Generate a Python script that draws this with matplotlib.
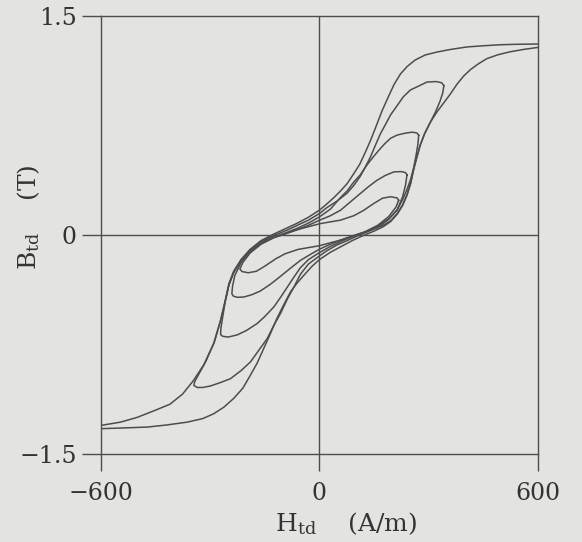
import matplotlib
matplotlib.use('Agg')
import matplotlib.pyplot as plt

# field H (A/m) and flux density B (T), read off the scanned loops
# outer loop: descending branch (600 -> -600) then ascending (-600 -> 600)
outer_desc_h = [600, 540, 496, 450, 405, 360, 322, 290, 262, 240, 222, 205,
                190, 172, 155, 140, 125, 110, 92, 76, 58, 40, 20, 0, -30,
                -60, -90, -125, -160, -190, -215, -235, -248, -258, -271,
                -290, -317, -346, -375, -410, -454, -500, -545, -600]
outer_desc_b = [1.305, 1.303, 1.300, 1.293, 1.285, 1.268, 1.250, 1.230,
                1.195, 1.150, 1.100, 1.030, 0.950, 0.850, 0.740, 0.645,
                0.560, 0.480, 0.410, 0.350, 0.300, 0.255, 0.210, 0.168,
                0.120, 0.080, 0.045, 0.005, -0.040, -0.100, -0.170, -0.250,
                -0.334, -0.449, -0.586, -0.745, -0.890, -1.000, -1.090,
                -1.160, -1.205, -1.250, -1.282, -1.305]
outer_asc_h = [-600, -540, -472, -420, -362, -320, -290, -262, -235, -210,
               -189, -171, -153, -135, -116, -98, -79, -61, -40, -20, 0, 30,
               60, 90, 120, 150, 175, 195, 213, 228, 240, 250, 258, 266,
               276, 288, 304, 322, 340, 358, 377, 395, 414, 436, 459, 490,
               523, 560, 600]
outer_asc_b = [-1.327, -1.322, -1.316, -1.302, -1.282, -1.258, -1.225,
               -1.180, -1.120, -1.050, -0.960, -0.880, -0.780, -0.680,
               -0.570, -0.480, -0.390, -0.330, -0.270, -0.215, -0.170,
               -0.120, -0.080, -0.040, -0.005, 0.025, 0.055, 0.090, 0.140,
               0.200, 0.270, 0.350, 0.442, 0.520, 0.610, 0.690, 0.770,
               0.840, 0.900, 0.960, 1.030, 1.085, 1.130, 1.170, 1.205,
               1.232, 1.252, 1.268, 1.282]

# minor loop A (H max ~ 340 A/m)
loopA_h = [341, 335, 320, 295, 270, 249, 230, 212, 195, 180, 167, 153, 140,
           125, 112, 95, 76, 48, 20, 0, -30, -60, -90, -125, -160, -190,
           -215, -235, -248, -258, -271, -288, -312, -332, -342, -344,
           -335, -320, -299, -270, -244, -215, -189, -166, -143, -125,
           -107, -88, -70, -52, -30, 0, 20, 48, 76, 100, 125, 150, 175,
           195, 213, 228, 240, 250, 258, 266, 276, 288, 304, 318, 330,
           338, 341]
loopA_b = [1.020, 1.040, 1.048, 1.045, 1.015, 0.990, 0.944, 0.880, 0.820,
           0.750, 0.690, 0.610, 0.533, 0.460, 0.400, 0.340, 0.285, 0.230,
           0.185, 0.145, 0.100, 0.065, 0.030, -0.005, -0.045, -0.105,
           -0.175, -0.255, -0.340, -0.452, -0.588, -0.735, -0.870, -0.960,
           -1.005, -1.031, -1.045, -1.045, -1.035, -1.010, -0.985, -0.930,
           -0.870, -0.790, -0.710, -0.620, -0.540, -0.440, -0.358, -0.270,
           -0.200, -0.145, -0.110, -0.070, -0.040, -0.012, 0.015, 0.040,
           0.065, 0.095, 0.145, 0.205, 0.275, 0.355, 0.448, 0.525, 0.612,
           0.690, 0.770, 0.840, 0.910, 0.970, 1.020]

# minor loop B (H max ~ 272 A/m)
loopB_h = [272, 268, 255, 235, 213, 195, 180, 167, 150, 131, 112, 94, 76,
           58, 30, 0, -30, -60, -90, -125, -160, -190, -215, -235, -248,
           -258, -265, -270, -271, -265, -250, -225, -200, -171, -150,
           -125, -107, -88, -70, -52, -30, 0, 30, 60, 90, 125, 160, 190,
           213, 228, 240, 250, 258, 265, 270, 272]
loopB_b = [0.680, 0.695, 0.702, 0.695, 0.682, 0.660, 0.625, 0.590, 0.540,
           0.480, 0.410, 0.360, 0.300, 0.255, 0.175, 0.122, 0.080, 0.045,
           0.015, -0.015, -0.050, -0.110, -0.180, -0.260, -0.345, -0.455,
           -0.560, -0.640, -0.683, -0.695, -0.700, -0.685, -0.655, -0.608,
           -0.560, -0.494, -0.430, -0.358, -0.290, -0.225, -0.170, -0.122,
           -0.080, -0.045, -0.012, 0.015, 0.050, 0.105, 0.170, 0.240,
           0.310, 0.380, 0.455, 0.545, 0.620, 0.680]

# minor loop C (H max ~ 240 A/m)
loopC_h = [240, 236, 225, 204, 180, 158, 135, 112, 85, 58, 30, 0, -30, -60,
           -90, -125, -160, -190, -215, -232, -238, -240, -236, -225, -207,
           -185, -162, -135, -107, -80, -52, -25, 0, 30, 60, 90, 125, 160,
           190, 213, 228, 236, 240]
loopC_b = [0.410, 0.425, 0.432, 0.430, 0.405, 0.373, 0.330, 0.282, 0.225,
           0.168, 0.130, 0.099, 0.065, 0.035, 0.008, -0.020, -0.060,
           -0.115, -0.190, -0.280, -0.350, -0.403, -0.420, -0.428, -0.426,
           -0.410, -0.385, -0.340, -0.285, -0.230, -0.175, -0.135, -0.099,
           -0.065, -0.035, -0.008, 0.020, 0.060, 0.110, 0.170, 0.260,
           0.340, 0.410]

# minor loop D (H max ~ 217 A/m)
loopD_h = [217, 213, 195, 173, 149, 120, 94, 58, 30, 0, -30, -60, -90,
           -125, -160, -190, -210, -218, -212, -195, -173, -149, -120, -94,
           -58, -30, 0, 30, 60, 90, 125, 160, 190, 210, 217]
loopD_b = [0.236, 0.252, 0.260, 0.250, 0.214, 0.165, 0.130, 0.100, 0.088,
           0.075, 0.055, 0.035, 0.012, -0.020, -0.065, -0.125, -0.190,
           -0.235, -0.252, -0.260, -0.250, -0.214, -0.165, -0.130, -0.100,
           -0.088, -0.075, -0.055, -0.035, -0.012, 0.020, 0.065, 0.125,
           0.190, 0.236]

xticks = [-600, 0, 600]
xticklabels = ['\u2212600', '0', '600']
yticks = [-1.5, 0, 1.5]
yticklabels = ['\u22121.5', '0', '1.5']

paper = '#e3e3e1'
ink = '#4d4d4d'

plt.rcParams['font.family'] = 'DejaVu Serif'
plt.rcParams['mathtext.fontset'] = 'dejavuserif'

fig = plt.figure(figsize=(5.82, 5.42), dpi=100, facecolor=paper)
ax = fig.add_axes([0.1727, 0.1624, 0.7523, 0.809])
ax.set_facecolor(paper)

# crosshair through the origin
ax.axhline(0, color=ink, lw=1.0, zorder=1)
ax.axvline(0, color=ink, lw=1.0, zorder=1)

ax.plot(outer_desc_h, outer_desc_b, color=ink, lw=1.1)
ax.plot(outer_asc_h, outer_asc_b, color=ink, lw=1.1)
for h, b in [(loopA_h, loopA_b), (loopB_h, loopB_b),
             (loopC_h, loopC_b), (loopD_h, loopD_b)]:
    ax.plot(h, b, color=ink, lw=1.1)

ax.set_xlim(-600, 600)
ax.set_ylim(-1.5, 1.5)
for s in ax.spines.values():
    s.set_color(ink)
    s.set_linewidth(1.0)

ax.set_xticks(xticks)
ax.set_xticklabels(xticklabels)
ax.set_yticks(yticks)
ax.set_yticklabels(yticklabels)
ax.tick_params(axis='x', direction='out', length=12, width=1.0, pad=8,
               colors=ink, labelsize=17, labelcolor='#333333')
ax.tick_params(axis='y', direction='out', length=14, width=1.0, pad=3,
               colors=ink, labelsize=17, labelcolor='#333333')

ax.set_xlabel(r'H$_{\mathrm{td}}$    (A/m)', fontsize=18, color='#333333')
ax.set_ylabel(r'B$_{\mathrm{td}}$    (T)', fontsize=18, color='#333333')
ax.xaxis.set_label_coords(0.56, -0.128)
ax.yaxis.set_label_coords(-0.133, 0.54)

fig.savefig('out.png', dpi=100, facecolor=paper)
